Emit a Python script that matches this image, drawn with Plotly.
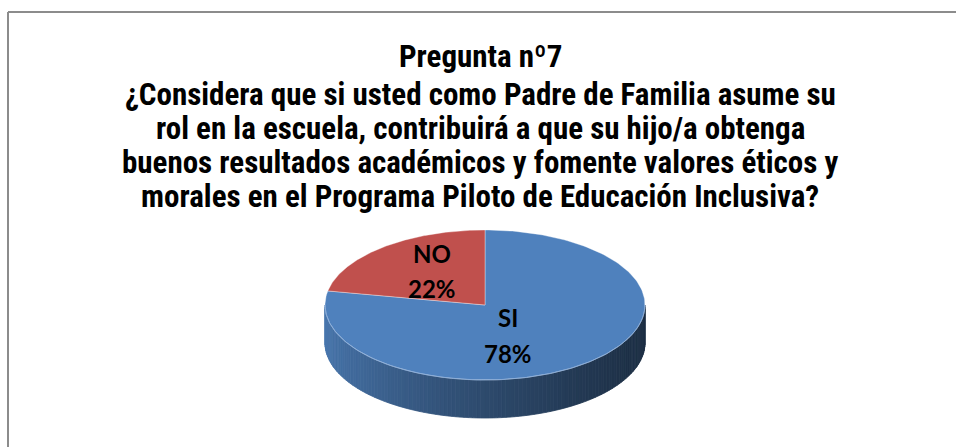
import numpy as np
import plotly.graph_objects as go

# ---- data ----
labels = ["SI", "NO"]
values = [78, 22]
colors = ["#4F81BD", "#C0504D"]
title_lines = [
    "Pregunta nº7",
    "¿Considera que si usted como Padre de Familia asume su",
    "rol en la escuela, contribuirá a que su hijo/a obtenga",
    "buenos resultados académicos y fomente valores éticos y",
    "morales en el Programa Piloto de Educación Inclusiva?",
]

# ---- layout constants (pixels) ----
W, H = 956, 447
CX, CY, A, B, D = 485, 305, 160, 75, 38
TITLE_Y = [56, 94, 128, 162, 196]
TITLE_X = 480
LABEL_POS = {"SI": (508, 317, 353), "NO": (432, 253, 288)}
TITLE_FONT = "Liberation Sans Narrow, Arial Narrow, Roboto Condensed, DejaVu Sans Condensed, sans-serif"
LABEL_FONT = "Lato, Carlito, Calibri, Open Sans, sans-serif"


def pt(phi_deg, dy=0.0):
    p = np.radians(phi_deg)
    return CX + A * np.sin(p), CY - B * np.cos(p) + dy


def hex_rgb(h):
    h = h.lstrip("#")
    return [int(h[i:i + 2], 16) for i in (0, 2, 4)]


fig = go.Figure()

# slice angle spans (clockwise from 12 o'clock)
total = float(sum(values))
spans = []
start = 0.0
for lab, v in zip(labels, values):
    end = start + 360.0 * v / total
    spans.append((lab, start, end))
    start = end


def slice_at(phi):
    for i, (lab, s, e) in enumerate(spans):
        if s <= phi <= e:
            return i
    return 0


# ---- visible side wall (front half), shaded strips ----
n = 120
phis = np.linspace(90, 270, n + 1)
for i in range(n):
    seg = np.linspace(phis[i], phis[i + 1], 4)
    xt, yt = pt(seg)
    xb, yb = pt(seg[::-1], D)
    xs = np.concatenate([xt, xb, xt[:1]])
    ys = np.concatenate([yt, yb, yt[:1]])
    t = (np.mean(xt) - (CX - A)) / (2 * A)
    f = 0.92 - 0.56 * (t ** 0.7)
    base = hex_rgb(colors[slice_at((phis[i] + phis[i + 1]) / 2)])
    c = "rgb(%d,%d,%d)" % tuple(int(round(k * f)) for k in base)
    fig.add_trace(go.Scatter(
        x=xs, y=ys, mode="lines", fill="toself", fillcolor=c,
        line=dict(color=c, width=0.8), hoverinfo="skip", showlegend=False))

# ---- top face slices ----
for i, (lab, s, e) in enumerate(spans):
    arc = np.linspace(s, e, 200)
    xa, ya = pt(arc)
    xs = np.concatenate([[CX], xa, [CX]])
    ys = np.concatenate([[CY], ya, [CY]])
    fig.add_trace(go.Scatter(
        x=xs, y=ys, mode="lines", fill="toself", fillcolor=colors[i],
        line=dict(color="rgba(255,255,255,0.35)", width=1),
        hoverinfo="skip", showlegend=False, name=lab))

# front rim highlight
arc = np.linspace(90, 270, 200)
xa, ya = pt(arc)
fig.add_trace(go.Scatter(x=xa, y=ya, mode="lines",
                         line=dict(color="rgba(140,175,220,0.8)", width=1),
                         hoverinfo="skip", showlegend=False))

# ---- labels ----
annotations = []
for lab, v in zip(labels, values):
    x, y1, y2 = LABEL_POS[lab]
    pct = "%d%%" % round(100.0 * v / total)
    for txt, yy in ((lab, y1), (pct, y2)):
        annotations.append(dict(
            x=x, y=yy, xref="x", yref="y", text="<b>%s</b>" % txt,
            showarrow=False, xanchor="center", yanchor="middle",
            font=dict(family=LABEL_FONT, size=24, color="black")))

# ---- title ----
for line, yy in zip(title_lines, TITLE_Y):
    annotations.append(dict(
        x=TITLE_X, y=yy, xref="x", yref="y", text="<b>%s</b>" % line,
        showarrow=False, xanchor="center", yanchor="middle",
        font=dict(family=TITLE_FONT, size=31, color="black")))

shapes = [
    dict(type="line", xref="paper", yref="paper", x0=8 / W, y0=1 - 12 / H,
         x1=1, y1=1 - 12 / H, line=dict(color="#8C8C8C", width=2)),
    dict(type="line", xref="paper", yref="paper", x0=8 / W, y0=1 - 12 / H,
         x1=8 / W, y1=0, line=dict(color="#8C8C8C", width=2)),
]

fig.update_layout(
    width=W, height=H,
    margin=dict(l=0, r=0, t=0, b=0),
    paper_bgcolor="white", plot_bgcolor="white",
    xaxis=dict(range=[0, W], visible=False, fixedrange=True),
    yaxis=dict(range=[H, 0], visible=False, fixedrange=True),
    annotations=annotations, shapes=shapes,
    showlegend=False,
)

fig.write_html(
    "out.html",
    config={"displayModeBar": False},
    post_script=(
        "document.documentElement.style.margin='0';"
        "document.documentElement.style.padding='0';"
        "document.documentElement.style.overflow='hidden';"
        "document.body.style.margin='0';"
        "document.body.style.padding='0';"
        "document.body.style.overflow='hidden';"
    ),
)
